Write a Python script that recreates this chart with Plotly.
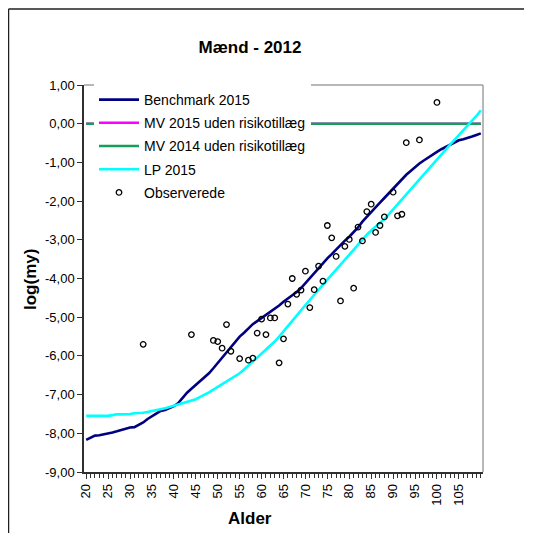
import plotly.graph_objects as go

ages = list(range(20, 111))

benchmark_2015 = [
    -8.17, -8.12, -8.06, -8.05, -8.03, -8.02, -7.98, -7.95, -7.91, -7.87,
    -7.85, -7.84, -7.78, -7.72, -7.63, -7.56, -7.48, -7.42, -7.40, -7.36,
    -7.30, -7.22, -7.08, -6.95, -6.85, -6.75, -6.65, -6.55, -6.45, -6.32,
    -6.18, -6.05, -5.90, -5.77, -5.62, -5.50, -5.40, -5.28, -5.18, -5.10,
    -5.02, -4.95, -4.86, -4.80, -4.70, -4.60, -4.52, -4.43, -4.35, -4.25,
    -4.12, -3.98, -3.85, -3.72, -3.60, -3.48, -3.37, -3.25, -3.13, -3.02,
    -2.92, -2.80, -2.68, -2.53, -2.40, -2.28, -2.16, -2.04, -1.92, -1.80,
    -1.67, -1.55, -1.44, -1.32, -1.22, -1.12, -1.03, -0.95, -0.87, -0.80,
    -0.73, -0.66, -0.60, -0.53, -0.47, -0.43, -0.40, -0.37, -0.33, -0.29,
    -0.25,
]

lp_2015 = [
    -7.55, -7.55, -7.55, -7.55, -7.55, -7.55, -7.53, -7.51, -7.51, -7.51,
    -7.50, -7.48, -7.48, -7.47, -7.45, -7.43, -7.41, -7.38, -7.35, -7.32,
    -7.29, -7.26, -7.23, -7.19, -7.16, -7.12, -7.06, -7.01, -6.94, -6.87,
    -6.80, -6.73, -6.66, -6.59, -6.52, -6.45, -6.35, -6.25, -6.15, -6.05,
    -5.95, -5.85, -5.75, -5.63, -5.50, -5.37, -5.24, -5.10, -4.96, -4.82,
    -4.68, -4.55, -4.42, -4.29, -4.16, -4.03, -3.90, -3.77, -3.64, -3.51,
    -3.38, -3.25, -3.12, -2.99, -2.87, -2.76, -2.65, -2.56, -2.47, -2.34,
    -2.21, -2.08, -1.95, -1.82, -1.70, -1.57, -1.44, -1.31, -1.18, -1.05,
    -0.93, -0.80, -0.67, -0.54, -0.42, -0.30, -0.18, -0.06, 0.07, 0.20,
    0.35,
]

mv_2015 = [
    0.0, 0.0, 0.0, 0.0, 0.0, 0.0, 0.0, 0.0, 0.0, 0.0,
    0.0, 0.0, 0.0, 0.0, 0.0, 0.0, 0.0, 0.0, 0.0, 0.0,
    0.0, 0.0, 0.0, 0.0, 0.0, 0.0, 0.0, 0.0, 0.0, 0.0,
    0.0, 0.0, 0.0, 0.0, 0.0, 0.0, 0.0, 0.0, 0.0, 0.0,
    0.0, 0.0, 0.0, 0.0, 0.0, 0.0, 0.0, 0.0, 0.0, 0.0,
    0.0, 0.0, 0.0, 0.0, 0.0, 0.0, 0.0, 0.0, 0.0, 0.0,
    0.0, 0.0, 0.0, 0.0, 0.0, 0.0, 0.0, 0.0, 0.0, 0.0,
    0.0, 0.0, 0.0, 0.0, 0.0, 0.0, 0.0, 0.0, 0.0, 0.0,
    0.0, 0.0, 0.0, 0.0, 0.0, 0.0, 0.0, 0.0, 0.0, 0.0,
    0.0,
]

mv_2014 = [
    0.0, 0.0, 0.0, 0.0, 0.0, 0.0, 0.0, 0.0, 0.0, 0.0,
    0.0, 0.0, 0.0, 0.0, 0.0, 0.0, 0.0, 0.0, 0.0, 0.0,
    0.0, 0.0, 0.0, 0.0, 0.0, 0.0, 0.0, 0.0, 0.0, 0.0,
    0.0, 0.0, 0.0, 0.0, 0.0, 0.0, 0.0, 0.0, 0.0, 0.0,
    0.0, 0.0, 0.0, 0.0, 0.0, 0.0, 0.0, 0.0, 0.0, 0.0,
    0.0, 0.0, 0.0, 0.0, 0.0, 0.0, 0.0, 0.0, 0.0, 0.0,
    0.0, 0.0, 0.0, 0.0, 0.0, 0.0, 0.0, 0.0, 0.0, 0.0,
    0.0, 0.0, 0.0, 0.0, 0.0, 0.0, 0.0, 0.0, 0.0, 0.0,
    0.0, 0.0, 0.0, 0.0, 0.0, 0.0, 0.0, 0.0, 0.0, 0.0,
    0.0,
]

obs_ages = [33, 44, 49, 50, 51, 52, 53, 55, 57, 58, 59, 60, 61, 62, 63, 64,
            65, 66, 67, 68, 69, 70, 71, 72, 73, 74, 75, 76, 77, 78, 79, 80,
            81, 82, 83, 84, 85, 86, 87, 88, 90, 91, 92, 93, 96, 100]
obs_values = [-5.70, -5.45, -5.60, -5.63, -5.80, -5.19, -5.88, -6.07, -6.11,
              -6.06, -5.41, -5.05, -5.45, -5.02, -5.02, -6.18, -5.56, -4.66,
              -4.00, -4.41, -4.30, -3.81, -4.75, -4.29, -3.68, -4.07, -2.63,
              -2.95, -3.43, -4.58, -3.17, -2.99, -4.25, -2.67, -3.03, -2.27,
              -2.08, -2.81, -2.63, -2.41, -1.77, -2.38, -2.34, -0.49, -0.42,
              0.55]

y_tick_values = [1, 0, -1, -2, -3, -4, -5, -6, -7, -8, -9]
y_tick_labels = ["1,00", "0,00", "-1,00", "-2,00", "-3,00", "-4,00",
                 "-5,00", "-6,00", "-7,00", "-8,00", "-9,00"]
x_tick_values = [20, 25, 30, 35, 40, 45, 50, 55, 60, 65, 70, 75, 80, 85,
                 90, 95, 100, 105]

FONT = "Liberation Sans, Arial, sans-serif"

fig = go.Figure()
fig.add_trace(go.Scatter(x=ages, y=benchmark_2015, mode="lines",
                         name="Benchmark 2015", legendgroup="a",
                         line=dict(color="#000080", width=2.6)))
fig.add_trace(go.Scatter(x=ages, y=mv_2015, mode="lines",
                         name="MV 2015 uden risikotillæg", legendgroup="b",
                         line=dict(color="#FF00FF", width=2.6)))
fig.add_trace(go.Scatter(x=ages, y=mv_2014, mode="lines",
                         name="MV 2014 uden risikotillæg", legendgroup="c",
                         line=dict(color="#14A05A", width=2.6)))
fig.add_trace(go.Scatter(x=ages, y=lp_2015, mode="lines",
                         name="LP 2015", legendgroup="d",
                         line=dict(color="#00FFFF", width=2.6)))
fig.add_trace(go.Scatter(x=obs_ages, y=obs_values, mode="markers",
                         name="Observerede", legendgroup="e",
                         marker=dict(symbol="circle-open", size=5.5,
                                     color="black",
                                     line=dict(width=1.3, color="black"))))

# the page is offset by 8px (body margin); coordinates below are the
# reference screenshot pixels minus that offset
OFF = 8
W, H = 517, 525
L, R, T, B = 84 - OFF, 483 - OFF, 85 - OFF, 472 - OFF
pw, ph = R - L, B - T


def px(xs):
    return (xs - OFF - L) / pw


def py(ys):
    return (B - (ys - OFF)) / ph


shapes = [
    # plot area top and right border (gray)
    dict(type="line", xref="paper", yref="paper", x0=0, x1=1, y0=1, y1=1,
         line=dict(color="#A0A0A0", width=1.5)),
    dict(type="line", xref="paper", yref="paper", x0=1, x1=1, y0=0, y1=1,
         line=dict(color="#A0A0A0", width=1.5)),
    # outer chart border (left and top)
    dict(type="line", xref="paper", yref="paper", x0=px(8.5), x1=px(8.5),
         y0=py(533), y1=py(9), line=dict(color="#202020", width=1.5)),
    dict(type="line", xref="paper", yref="paper", x0=px(8.5), x1=px(524),
         y0=py(9), y1=py(9), line=dict(color="#202020", width=1.5)),
]

annotations = [
    dict(text="<b>log(my)</b>", xref="paper", yref="paper",
         x=px(30), y=py(280), textangle=-90, showarrow=False,
         font=dict(family=FONT, size=17, color="black"),
         xanchor="center", yanchor="middle"),
    dict(text="<b>Alder</b>", xref="paper", yref="paper",
         x=px(250), y=py(519), showarrow=False,
         font=dict(family=FONT, size=17, color="black"),
         xanchor="center", yanchor="middle"),
]

fig.update_layout(
    width=W, height=H,
    margin=dict(l=L, r=W - R, t=T, b=H - B, pad=0),
    paper_bgcolor="white", plot_bgcolor="white",
    font=dict(family=FONT, size=13, color="black"),
    title=dict(text="<b>Mænd - 2012</b>", x=(250 - OFF) / W,
               y=1 - (47 - OFF) / H,
               xanchor="center", yanchor="middle",
               font=dict(family=FONT, size=17, color="black")),
    showlegend=True,
    legend=dict(x=px(94), y=py(84), xanchor="left", yanchor="top",
                bgcolor="white", borderwidth=0,
                font=dict(family=FONT, size=14, color="black"),
                itemwidth=40, tracegroupgap=2),
    shapes=shapes,
    annotations=annotations,
)

fig.update_xaxes(
    range=[19.5, 110.5], tickmode="array", tickvals=x_tick_values,
    tickangle=-90, ticks="outside", ticklen=5, tickwidth=1,
    tickcolor="#303030", showline=True, linecolor="#303030", linewidth=1.5,
    showgrid=False, zeroline=False,
    tickfont=dict(family=FONT, size=13, color="black"),
    minor=dict(tickmode="linear", tick0=20, dtick=1, ticks="outside",
               ticklen=4, tickcolor="#303030", showgrid=False),
)
fig.update_yaxes(
    range=[-9, 1], tickmode="array", tickvals=y_tick_values,
    ticktext=y_tick_labels, ticks="outside", ticklen=5, tickwidth=1,
    tickcolor="#303030", showline=True, linecolor="#303030", linewidth=1.5,
    showgrid=False, zeroline=False,
    tickfont=dict(family=FONT, size=13, color="black"),
)

fig.write_html("out.html")
